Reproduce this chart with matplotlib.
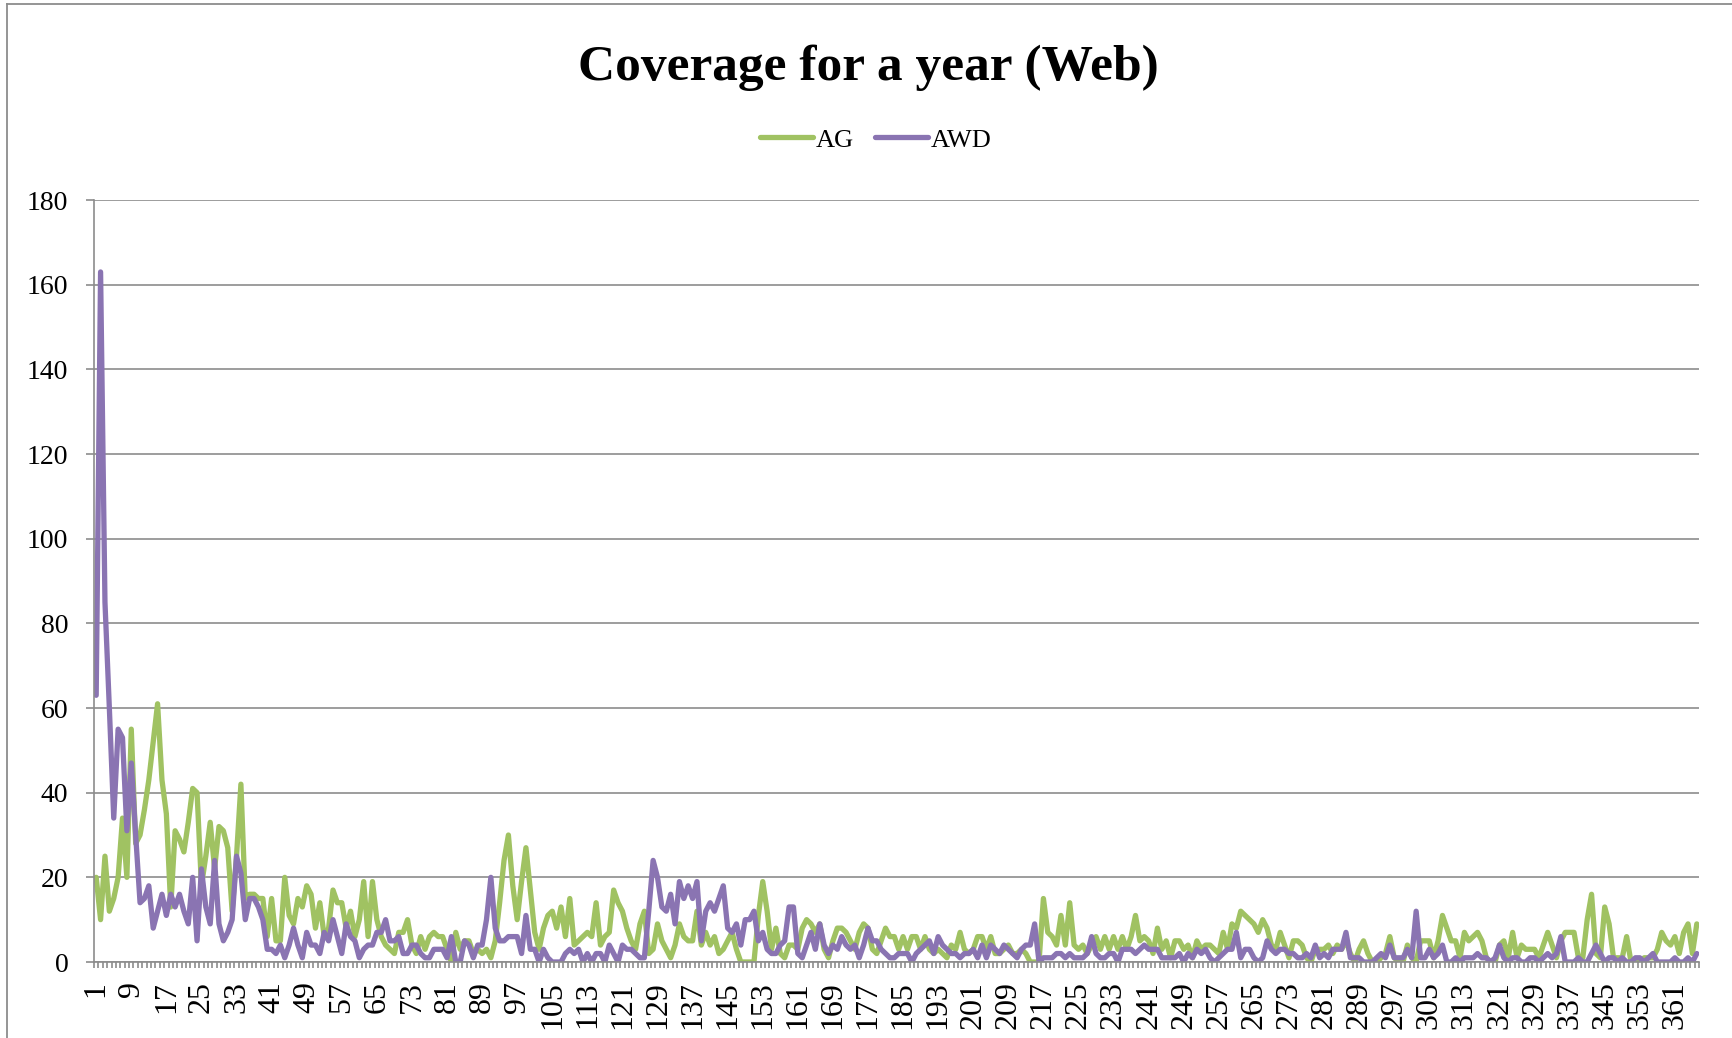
import matplotlib.pyplot as plt
from matplotlib.lines import Line2D
import numpy as np

# --- daily coverage counts, day 1 .. 366 ---
days = np.arange(1, 367)

ag_counts = [
    20, 10, 25, 12, 15, 20, 34, 20, 55, 28,
    30, 36, 43, 52, 61, 43, 35, 13, 31, 29,
    26, 33, 41, 40, 18, 25, 33, 22, 32, 31,
    27, 12, 25, 42, 15, 16, 16, 15, 15, 6,
    15, 5, 5, 20, 11, 9, 15, 13, 18, 16,
    8, 14, 6, 8, 17, 14, 14, 8, 12, 6,
    10, 19, 6, 19, 10, 6, 4, 3, 2, 7,
    7, 10, 4, 2, 6, 3, 6, 7, 6, 6,
    3, 0, 7, 3, 5, 5, 2, 3, 2, 3,
    1, 5, 14, 24, 30, 18, 10, 19, 27, 17,
    7, 3, 8, 11, 12, 8, 13, 6, 15, 4,
    5, 6, 7, 6, 14, 4, 6, 7, 17, 14,
    12, 8, 5, 3, 9, 12, 2, 3, 9, 5,
    3, 1, 4, 9, 6, 5, 5, 12, 4, 7,
    4, 6, 2, 3, 5, 7, 3, 0, 0, 0,
    0, 11, 19, 12, 3, 8, 2, 1, 4, 4,
    3, 8, 10, 9, 7, 9, 3, 1, 5, 8,
    8, 7, 5, 3, 7, 9, 8, 3, 2, 5,
    8, 6, 6, 3, 6, 3, 6, 6, 3, 6,
    3, 2, 3, 2, 1, 4, 3, 7, 3, 2,
    3, 6, 6, 3, 6, 2, 2, 3, 4, 2,
    2, 3, 2, 0, 0, 0, 15, 7, 6, 4,
    11, 4, 14, 4, 3, 4, 2, 4, 6, 3,
    6, 3, 6, 3, 6, 3, 6, 11, 5, 6,
    5, 2, 8, 3, 5, 1, 5, 5, 3, 4,
    1, 5, 3, 4, 4, 3, 2, 7, 3, 9,
    8, 12, 11, 10, 9, 7, 10, 8, 4, 3,
    7, 4, 1, 5, 5, 4, 1, 0, 3, 3,
    3, 4, 2, 4, 3, 5, 2, 0, 3, 5,
    2, 0, 0, 1, 2, 6, 1, 0, 0, 4,
    1, 0, 5, 5, 5, 1, 5, 11, 8, 5,
    5, 1, 7, 5, 6, 7, 5, 1, 0, 0,
    4, 5, 1, 7, 1, 4, 3, 3, 3, 1,
    4, 7, 4, 1, 5, 7, 7, 7, 1, 1,
    10, 16, 2, 1, 13, 9, 1, 1, 1, 6,
    0, 0, 0, 1, 1, 1, 3, 7, 5, 4,
    6, 2, 7, 9, 2, 9,
]

awd_counts = [
    63, 163, 85, 60, 34, 55, 53, 31, 47, 30,
    14, 15, 18, 8, 12, 16, 11, 16, 13, 16,
    12, 9, 20, 5, 22, 13, 9, 24, 9, 5,
    7, 10, 25, 21, 10, 15, 15, 13, 10, 3,
    3, 2, 4, 1, 4, 8, 4, 1, 7, 4,
    4, 2, 7, 5, 10, 6, 2, 9, 6, 5,
    1, 3, 4, 4, 7, 7, 10, 5, 5, 6,
    2, 2, 4, 4, 2, 1, 1, 3, 3, 3,
    1, 6, 0, 0, 5, 4, 1, 4, 4, 10,
    20, 8, 5, 5, 6, 6, 6, 2, 11, 3,
    3, 0, 3, 1, 0, 0, 0, 2, 3, 2,
    3, 0, 2, 0, 2, 2, 0, 4, 2, 0,
    4, 3, 3, 2, 1, 1, 12, 24, 20, 13,
    12, 16, 9, 19, 15, 18, 15, 19, 5, 12,
    14, 12, 15, 18, 8, 7, 9, 4, 10, 10,
    12, 5, 7, 3, 2, 2, 4, 5, 13, 13,
    2, 1, 4, 7, 3, 9, 4, 2, 4, 3,
    6, 4, 3, 4, 1, 4, 8, 5, 5, 3,
    2, 1, 1, 2, 2, 2, 0, 2, 3, 4,
    5, 2, 6, 4, 3, 2, 2, 1, 2, 2,
    3, 1, 4, 1, 4, 3, 2, 4, 3, 2,
    1, 3, 4, 4, 9, 0, 1, 1, 1, 2,
    2, 1, 2, 1, 1, 1, 2, 6, 2, 1,
    1, 2, 2, 0, 3, 3, 3, 2, 3, 4,
    3, 3, 3, 1, 1, 1, 1, 2, 0, 2,
    1, 3, 2, 3, 1, 0, 1, 2, 3, 3,
    7, 1, 3, 3, 1, 0, 1, 5, 3, 2,
    3, 3, 2, 2, 1, 1, 2, 1, 4, 1,
    2, 1, 3, 3, 3, 7, 1, 1, 1, 0,
    0, 0, 1, 2, 1, 4, 1, 1, 1, 3,
    1, 12, 1, 1, 3, 1, 2, 4, 0, 0,
    1, 0, 1, 1, 1, 2, 1, 1, 0, 1,
    4, 1, 0, 1, 1, 0, 0, 1, 1, 0,
    1, 2, 1, 2, 6, 0, 0, 0, 1, 0,
    0, 2, 4, 2, 0, 1, 1, 0, 1, 0,
    0, 1, 1, 0, 1, 2, 0, 0, 0, 0,
    1, 0, 0, 1, 0, 2,
]

y_ticks = list(range(0, 181, 20))
x_label_days = days[::8]          # 1, 9, 17, ... 361

GREEN = '#A0C262'
PURPLE = '#8A74B2'
GRID = '#8C8C8C'
SERIF = ['Liberation Serif', 'DejaVu Serif']

plt.rcParams['font.family'] = SERIF

W, H = 1732, 1038
fig = plt.figure(figsize=(W / 100, H / 100), dpi=100)

# plot area in pixels: x 94..1699, y 200..962
ax = fig.add_axes([94 / W, 1 - 962 / H, (1699 - 94) / W, (962 - 200) / H])

ax.plot(days, ag_counts, color=GREEN, lw=3.8, label='AG',
        solid_joinstyle='round', solid_capstyle='round')
ax.plot(days, awd_counts, color=PURPLE, lw=3.8, label='AWD',
        solid_joinstyle='round', solid_capstyle='round')

ax.set_xlim(0.5, 366.5)
ax.set_ylim(0, 180)

# horizontal gridlines only
ax.set_yticks(y_ticks)
ax.grid(axis='y', color=GRID, lw=1.2)
ax.set_axisbelow(True)

for side in ['top', 'right']:
    ax.spines[side].set_visible(False)
for side in ['left', 'bottom']:
    ax.spines[side].set_color(GRID)
    ax.spines[side].set_linewidth(1.2)

ax.tick_params(axis='y', length=5.5, width=1.2, color=GRID, pad=13, labelsize=20)

# category labels every 8 days, tick marks between every category
ax.set_xticks(x_label_days)
ax.set_xticklabels([str(d) for d in x_label_days], rotation=90, va='top', ha='center')
ax.set_xticks(np.arange(0.5, 367, 1), minor=True)
ax.tick_params(axis='x', which='major', length=0, pad=14, labelsize=23)
ax.tick_params(axis='x', which='minor', length=4.5, width=1.2, color=GRID)

# chart title and legend
fig.text(868 / W, 1 - 80 / H, 'Coverage for a year (Web)', ha='center', va='baseline',
         fontsize=37, fontweight='bold')
fig.legend(loc='center', bbox_to_anchor=(876 / W, 1 - 140 / H), ncol=2, frameon=False,
           fontsize=19, handlelength=2.0, handletextpad=0.12, columnspacing=0.8)

# outer chart border (top and left edges visible)
fig.add_artist(Line2D([7 / W, 1.0], [1 - 4 / H, 1 - 4 / H], transform=fig.transFigure,
                      color=GRID, lw=1.3))
fig.add_artist(Line2D([7 / W, 7 / W], [1 - 4 / H, 0.0], transform=fig.transFigure,
                      color=GRID, lw=1.3))

fig.savefig('out.png', dpi=100)
